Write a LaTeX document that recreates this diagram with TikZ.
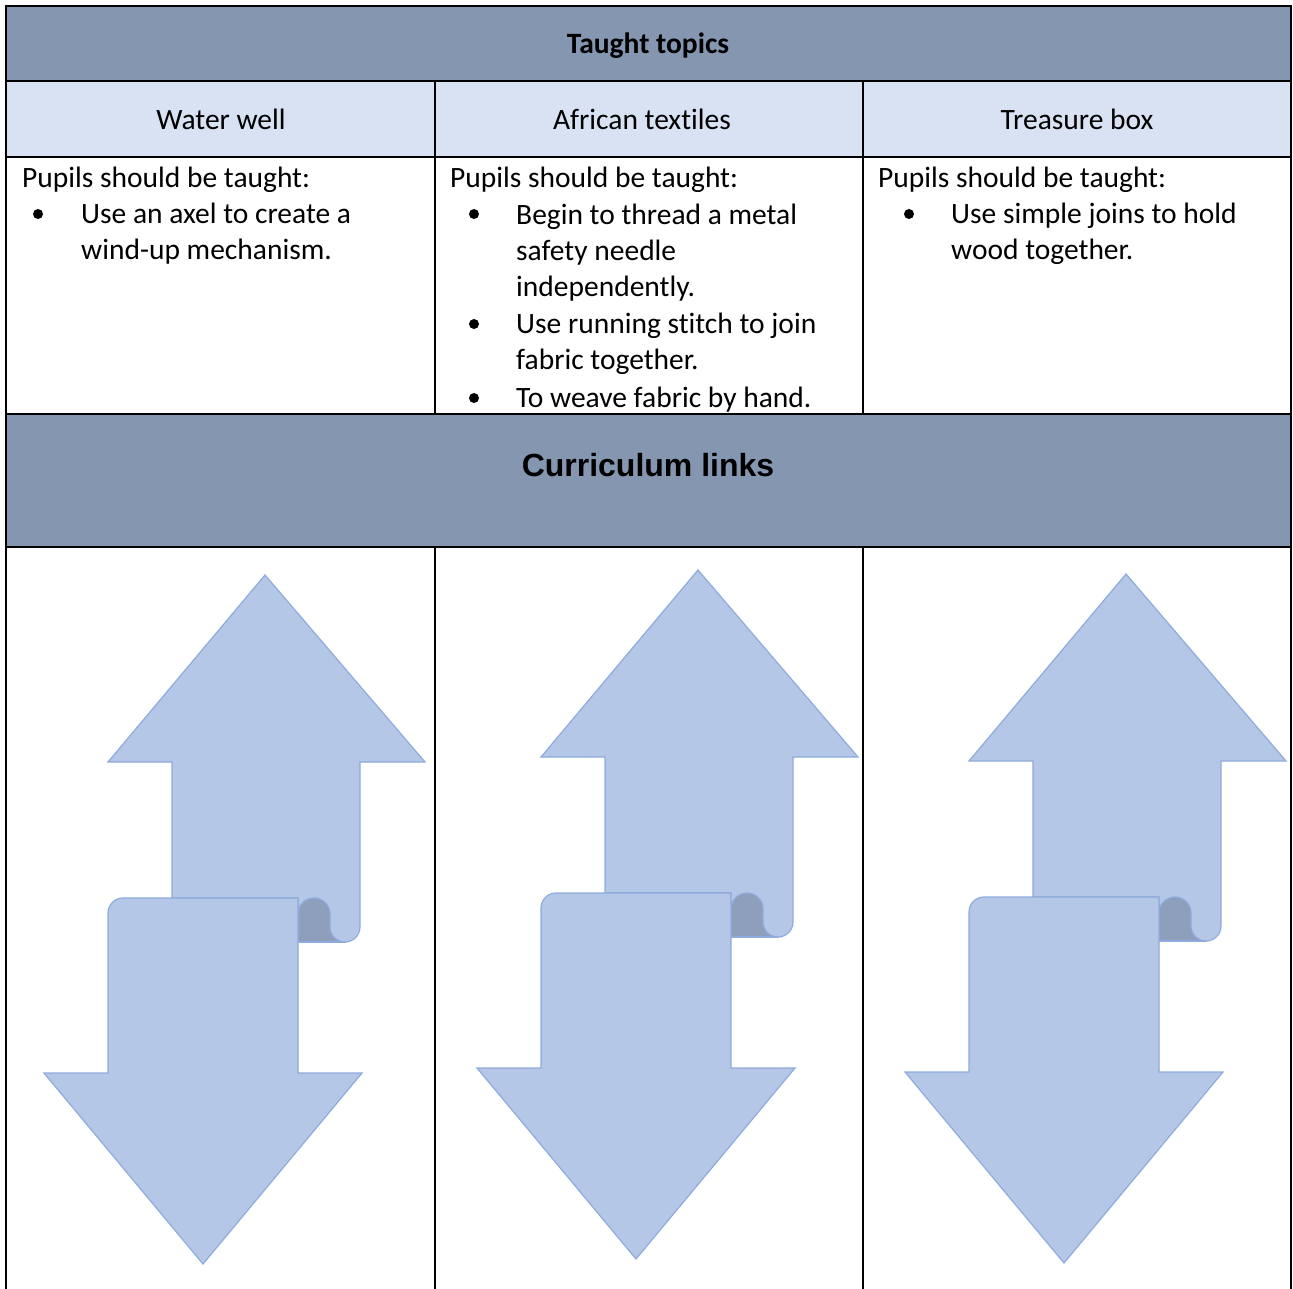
\documentclass[tikz,border=0pt]{standalone}
\usepackage{fontspec}
\setmainfont{Carlito}[Ligatures=NoCommon]
\newfontfamily\arialf{Liberation Sans}
\definecolor{hdr}{RGB}{132,150,176}
\definecolor{subhdr}{RGB}{217,226,243}
\definecolor{arrfill}{RGB}{180,199,231}
\definecolor{arrline}{RGB}{143,170,220}
\definecolor{curlfill}{RGB}{142,159,187}
\tikzset{
  grid/.style={line width=2.2pt, black},
  body/.style={inner sep=0pt, anchor=base west, font=\fontsize{29.5}{36}\selectfont},
  headtxt/.style={inner sep=0pt, anchor=base, font=\fontsize{29.5}{36}\selectfont},
  bigtxt/.style={inner sep=0pt, anchor=base, font=\arialf\bfseries\fontsize{32}{38}\selectfont},
  bul/.style={circle, fill=black, inner sep=0pt, minimum size=10pt},
  arrowst/.style={fill=arrfill, draw=arrline, line width=1.2pt, line join=miter},
  curlst/.style={fill=curlfill, draw=arrline, line width=1.2pt}
}
\newcommand\scrollarrow[2]{%
  \begin{scope}[shift={(#1,#2)}]
    \filldraw[curlst] (298,898) rectangle (345,942);
    \filldraw[arrowst] (172,898) -- (172,762) -- (108,762) -- (265,575) -- (425,762) -- (360,762) -- (360,927)
      arc[start angle=0, end angle=-180, radius=15pt] -- (330,914)
      arc[start angle=0, end angle=180, radius=16pt] -- (298,898) -- cycle;
    \filldraw[arrowst] (108,1073) -- (108,913) arc[start angle=180, end angle=90, radius=15pt]
      -- (298,898) -- (298,1073) -- (362,1073) -- (203,1264) -- (44,1073) -- cycle;
  \end{scope}}
\begin{document}
\begin{tikzpicture}[x=1pt, y=-1pt]
\useasboundingbox (0,0) rectangle (1293,1288);
% backgrounds
\fill[hdr] (6,6) rectangle (1291,81);
\fill[subhdr] (6,81) rectangle (1291,157);
\fill[hdr] (6,414) rectangle (1291,547);
% arrows
\scrollarrow{0}{0}
\scrollarrow{433}{-5}
\scrollarrow{861}{-1}
% grid lines
\draw[grid] (6,6) rectangle (1291,1300);
\draw[grid] (6,81) -- (1291,81);
\draw[grid] (6,157) -- (1291,157);
\draw[grid] (6,414) -- (1291,414);
\draw[grid] (6,547) -- (1291,547);
\draw[grid] (435,81) -- (435,414);
\draw[grid] (863,81) -- (863,414);
\draw[grid] (435,547) -- (435,1300);
\draw[grid] (863,547) -- (863,1300);
% headings
\node[headtxt, font=\bfseries\fontsize{29.5}{36}\selectfont] (tt) at (648,53) {Taught topics};
\node[headtxt] (h1) at (221,129) {Water well};
\node[headtxt] (h2) at (642,129) {African textiles};
\node[headtxt] (h3) at (1077,129) {Treasure box};
\node[bigtxt] (cl) at (648,476) {Curriculum links};
% column 1
\node[body] (c1a) at (22,187) {Pupils should be taught:};
\node[bul] (b1a) at (38,214) {};
\node[body] (c1b) at (81,223) {Use an axel to create a};
\node[body] (c1c) at (81,259) {wind-up mechanism.};
% column 2
\node[body] (c2a) at (450,187) {Pupils should be taught:};
\node[bul] (b2a) at (474,214) {};
\node[body] (c2b) at (516,224) {Begin to thread a metal};
\node[body] (c2c) at (516,260) {safety needle};
\node[body] (c2d) at (516,296) {independently.};
\node[bul] (b2b) at (474,324) {};
\node[body] (c2e) at (516,333) {Use running stitch to join};
\node[body] (c2f) at (516,369) {fabric together.};
\node[bul] (b2c) at (474,398) {};
\node[body] (c2g) at (516,407) {To weave fabric by hand.};
% column 3
\node[body] (c3a) at (878,187) {Pupils should be taught:};
\node[bul] (b3a) at (909,214) {};
\node[body] (c3b) at (951,223) {Use simple joins to hold};
\node[body] (c3c) at (951,259) {wood together.};
\end{tikzpicture}
\end{document}
